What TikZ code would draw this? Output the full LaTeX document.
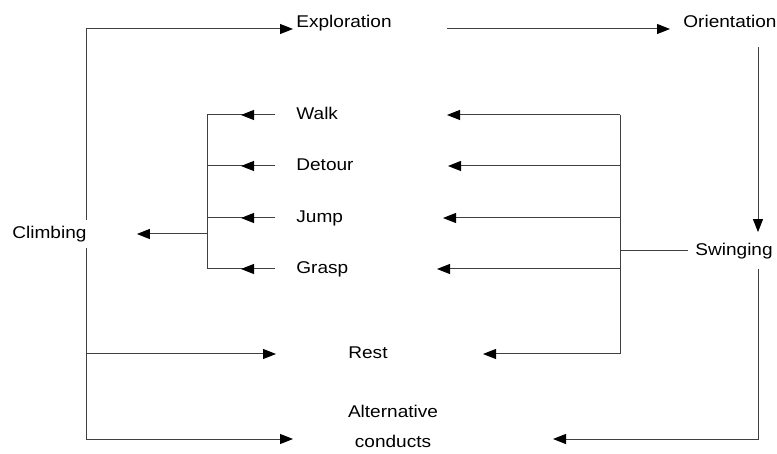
\documentclass[tikz,border=0pt]{standalone}
\usepackage{fontspec}
\setmainfont{Liberation Sans}[FakeStretch=1.12]
\usetikzlibrary{arrows.meta,decorations.markings}
\begin{document}
\begin{tikzpicture}[x=0.5pt,y=-0.5pt]
		\tikzset{term/.style = {anchor=west, inner sep=0pt, text height=6.2pt, text depth=1.8pt, font=\fontsize{8.5}{10}\selectfont},
			link/.style = {draw=black!75, line width=0.5pt},
			arr/.style = {link, -{Triangle[length=6.5pt,width=5pt,color=black]}},
			midarr/.style = {link, postaction={decorate}, decoration={markings, mark=at position 0.5 with {\arrow{Triangle[length=6.5pt,width=5pt,color=black]}}}}}

		\useasboundingbox (0,0) rectangle (777,454);

		\node[term] (explo) at (296,23) {Exploration};
		\node[term] (orient) at (683,23) {Orientation};
		\node[term, inner ysep=3pt] (climb) at (12,234) {Climbing};
		\node[term] (walk) at (296,115) {Walk};
		\node[term] (detour) at (296,166) {Detour};
		\node[term] (jump) at (296,218) {Jump};
		\node[term] (grasp) at (296,269) {Grasp};
		\node[term] (rest) at (348,354) {Rest};
		\node[term] (swing) at (695,251) {Swinging};
		\node[align=center, inner sep=0pt, anchor=north, font=\fontsize{8.5}{15}\selectfont] (alt) at (393,405) {Alternative\\conducts};

		\coordinate (brk) at (207,234);
		\coordinate (bus) at (620,251);
		\coordinate (rcol) at (758,251);
		\coordinate (altin) at (293,439);
		\coordinate (altout) at (553,439);

		\draw[arr] (climb.north east) |- ([xshift=-1.5pt,yshift=-3pt]explo.west);
		\draw[arr] (climb.south east |- rest.west) -- ([xshift=-36pt]rest.west);
		\draw[arr] (climb.south east) |- (altin);

		\draw[arr] ([xshift=27.5pt,yshift=-3pt]explo.east) -- ([xshift=-6.5pt,yshift=-3pt]orient.west);
		\draw[arr, shorten <=7.75pt, shorten >=5.25pt] (orient.south -| rcol) -- (swing.north -| rcol);
		\draw[arr, shorten <=5pt] (swing.south -| rcol) |- (altout);

		\draw[link, shorten >=3.5pt] (swing.west -| bus) -- (swing.west);
		\draw[link] (walk.west -| bus) -- (rest.west -| bus);
		\draw[arr] (walk.west -| bus) -- ([xshift=75.5pt]walk.west);
		\draw[arr] (detour.west -| bus) -- ([xshift=76pt]detour.west);
		\draw[arr] (jump.west -| bus) -- ([xshift=73.5pt]jump.west);
		\draw[arr] (grasp.west -| bus) -- ([xshift=70.5pt]grasp.west);
		\draw[arr] (rest.west -| bus) -- ([xshift=67.5pt]rest.west);

		\draw[midarr] ([xshift=-10.5pt]walk.west) -- (walk.west -| brk);
		\draw[midarr] ([xshift=-10.5pt]detour.west) -- (detour.west -| brk);
		\draw[midarr] ([xshift=-10.5pt]jump.west) -- (jump.west -| brk);
		\draw[midarr] ([xshift=-10.5pt]grasp.west) -- (grasp.west -| brk);
		\draw[link] (walk.west -| brk) -- (grasp.west -| brk);
		\draw[arr] (brk) -- ([xshift=25pt]climb.east);

	\end{tikzpicture}
\end{document}
